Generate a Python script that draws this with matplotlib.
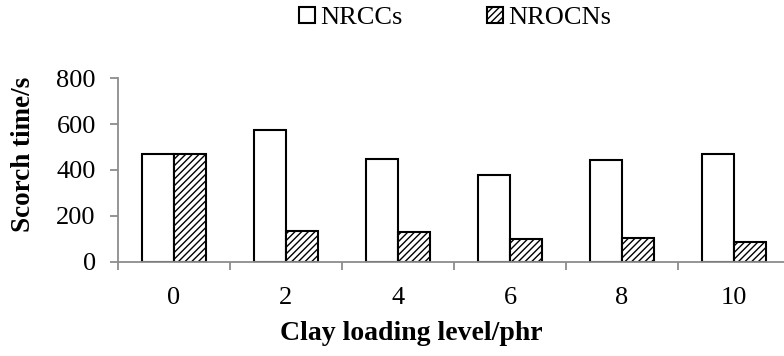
import matplotlib
matplotlib.use("Agg")
import matplotlib.pyplot as plt
import numpy as np

categories = ["0", "2", "4", "6", "8", "10"]
nrccs = [471, 576, 448, 378, 443, 470]
nrocns = [471, 134, 128, 99, 102, 86]

plt.rcParams['font.family'] = ['Liberation Serif', 'DejaVu Serif']
plt.rcParams['hatch.color'] = '#404040'
plt.rcParams['hatch.linewidth'] = 1.0

fig = plt.figure(figsize=(7.84, 3.56), dpi=100)
ax = fig.add_axes([118/784, 1-261.7/356, 672/784, (261.7-78.3)/356])

x = np.arange(len(categories))
w = 0.29
ax.bar(x - w/2, nrccs, w, color='white', edgecolor='black', linewidth=1.5, label='NRCCs')
ax.bar(x + w/2, nrocns, w, color='white', edgecolor='black', linewidth=1.5, hatch='/////', label='NROCNs')

ax.set_xlim(-0.5, len(categories) - 0.5)
ax.set_ylim(0, 800)
ax.set_yticks([0, 200, 400, 600, 800])
ax.set_xticks(x)
ax.set_xticklabels(categories)
ax.set_xticks(np.arange(-0.5, len(categories), 1.0), minor=True)

for s in ['top', 'right']:
    ax.spines[s].set_visible(False)
for s in ['left', 'bottom']:
    ax.spines[s].set_color('#8c8c8c')
    ax.spines[s].set_linewidth(1.3)

ax.tick_params(axis='y', direction='out', length=6, width=1.3, color='#8c8c8c', labelsize=19, pad=10)
ax.tick_params(axis='x', which='major', length=0, labelsize=19, pad=18)
ax.tick_params(axis='x', which='minor', direction='out', length=6, width=1.3, color='#8c8c8c')

ax.set_ylabel('Scorch time/s', fontsize=19.5, fontweight='bold')
ax.set_xlabel('Clay loading level/phr', fontsize=20, fontweight='bold')
ax.yaxis.set_label_coords(-0.122, 0.587)
ax.xaxis.set_label_coords(0.436, -0.325)

fig.legend(loc='center', bbox_to_anchor=(455/784, 1-18/356), ncol=2, frameon=False,
           fontsize=19, handlelength=0.6, handleheight=0.6, handletextpad=0.2,
           columnspacing=3.2)

fig.savefig('out.png', dpi=100)
